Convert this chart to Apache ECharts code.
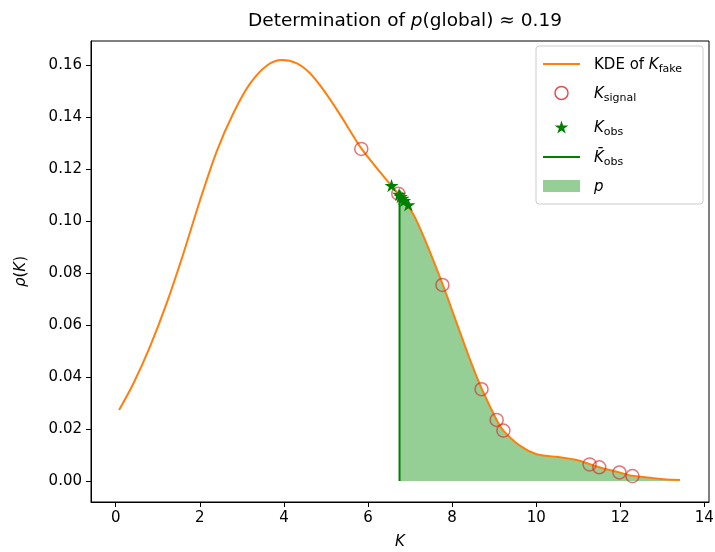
<!DOCTYPE html>
<html>
<head>
<meta charset="utf-8">
<script src="https://cdn.jsdelivr.net/npm/echarts@6/dist/echarts.min.js"></script>
<style>html,body{margin:0;padding:0;background:#fff}#c{width:715px;height:552px}</style>
</head>
<body>
<div id="c"></div>
<script>
// KDE curve
const kdeK   = [0.08, 0.42, 0.82, 1.21, 1.61, 2.00, 2.40, 2.80, 3.19, 3.59, 3.95, 4.31, 4.62, 4.94, 5.34, 5.85, 6.52, 6.75, 7.08, 7.40, 7.78, 8.11, 8.43, 8.71, 9.06, 9.22, 9.62, 10.01, 10.49, 10.97, 11.27, 11.50, 11.98, 12.29, 13.03, 13.42];
const kdeRho = [0.0273, 0.0375, 0.0519, 0.0683, 0.0875, 0.1077, 0.1267, 0.1415, 0.1527, 0.1597, 0.1619, 0.1606, 0.1568, 0.1504, 0.1408, 0.1277, 0.1142, 0.1098, 0.1025, 0.0910, 0.0754, 0.0607, 0.0465, 0.0353, 0.0235, 0.0194, 0.0135, 0.0103, 0.0093, 0.0081, 0.0065, 0.0053, 0.0033, 0.0020, 0.0007, 0.0004];
// K_signal points
const sigK   = [5.84, 6.72, 7.77, 8.70, 9.06, 9.22, 11.27, 11.50, 11.98, 12.29];
const sigRho = [0.1277, 0.1105, 0.0754, 0.0353, 0.0235, 0.0194, 0.0064, 0.0053, 0.0033, 0.0019];
// K_obs points
const obsK   = [6.56, 6.74, 6.78, 6.82, 6.86, 6.96];
const obsRho = [0.1136, 0.1102, 0.1094, 0.1087, 0.1078, 0.1062];
// mean K_obs
const kBar = 6.75;
const kBarRho = 0.1095;
// ticks
const xTicks = [0, 2, 4, 6, 8, 10, 12, 14];
const yTicks = [0, 0.02, 0.04, 0.06, 0.08, 0.10, 0.12, 0.14, 0.16];
// legend entries
const legendTexts = [
  '{t|KDE of }{i|K}{s|fake}',
  '{i|K}{s|signal}',
  '{i|K}{s|obs}',
  '{i|K\u0304}{s|obs}',
  '{i|p}'
];

const FONT = 'DejaVu Sans';
const SMOOTH = 0.3;
const kdeData = kdeK.map((k, i) => [k, kdeRho[i]]);
const fillData = [[kBar, kBarRho]].concat(kdeData.filter(d => d[0] > kBar));
const sigData = sigK.map((k, i) => [k, sigRho[i]]);
const obsData = obsK.map((k, i) => [k, obsRho[i]]);
const STAR_PTS = [[0,-1],[0.2245,-0.309],[0.951,-0.309],[0.363,0.118],[0.588,0.809],[0,0.382],[-0.588,0.809],[-0.363,0.118],[-0.951,-0.309],[-0.2245,-0.309]];
const STAR = 'path://M' + STAR_PTS.map(p => p[0] + ',' + p[1]).join('L') + 'Z';
const RED = 'rgba(214,39,40,0.8)';
const GREEN = '#008000';
const FILL = 'rgba(44,160,44,0.5)';

const richG = {
  t: {fontFamily: FONT, fontSize: 15, fill: '#000'},
  i: {fontFamily: FONT, fontSize: 15, fontStyle: 'italic', fill: '#000'},
  s: {fontFamily: FONT, fontSize: 11, fill: '#000', padding: [9, 0, 0, 0]}
};
const rowY = [64, 93, 127, 157, 186];
const hx0 = 543, hx1 = 580, hcx = 561.5, tx = 594;
const starR = 7.2;
const legendGraphics = [
  {type: 'rect', shape: {x: 536, y: 46, width: 167, height: 158, r: 3}, z: 100, silent: true,
   style: {fill: 'rgba(255,255,255,0.8)', stroke: '#cccccc', lineWidth: 1}},
  {type: 'line', shape: {x1: hx0, y1: rowY[0], x2: hx1, y2: rowY[0]}, z: 101, style: {stroke: '#ff7f0e', lineWidth: 2}},
  {type: 'circle', shape: {cx: hcx, cy: rowY[1], r: 6.5}, z: 101, style: {fill: 'none', stroke: RED, lineWidth: 1.5}},
  {type: 'polygon', shape: {points: STAR_PTS.map(p => [hcx + p[0] * starR, rowY[2] + 0.1 * starR + p[1] * starR])}, z: 101, style: {fill: GREEN}},
  {type: 'line', shape: {x1: hx0, y1: rowY[3], x2: hx1, y2: rowY[3]}, z: 101, style: {stroke: GREEN, lineWidth: 2}},
  {type: 'rect', shape: {x: hx0, y: rowY[4] - 6, width: hx1 - hx0, height: 12}, z: 101, style: {fill: FILL}}
].concat(legendTexts.map((txt, i) => ({
  type: 'text', z: 101, silent: true,
  style: {x: tx, y: rowY[i] + 1, text: txt, rich: richG, fontFamily: FONT, fontSize: 15, fill: '#000', align: 'left', verticalAlign: 'middle'}
})));

const chart = echarts.init(document.getElementById('c'), null, {renderer: 'canvas'});
chart.setOption({
  animation: false,
  backgroundColor: '#fff',
  title: {
    text: '{a|Determination of }{i|p}{a|(global) \u2248 0.19}',
    left: 400, top: 7, textAlign: 'center',
    textStyle: {fontWeight: 'normal', rich: {
      a: {fontFamily: FONT, fontSize: 18.5, fontWeight: 'normal', color: '#000'},
      i: {fontFamily: FONT, fontSize: 18.5, fontWeight: 'normal', fontStyle: 'italic', color: '#000'}
    }}
  },
  grid: {left: 91, right: 6, top: 41, bottom: 50, containLabel: false, outerBoundsMode: 'none',
    show: true, borderColor: '#000', borderWidth: 1, backgroundColor: 'transparent'},
  xAxis: {
    type: 'value', min: -0.588, max: 14.11,
    axisLine: {show: true, onZero: false, lineStyle: {color: '#000', width: 1}},
    axisTick: {show: true, length: 5, customValues: xTicks, lineStyle: {color: '#000'}},
    axisLabel: {customValues: xTicks, fontFamily: FONT, fontSize: 15, color: '#000', margin: 9},
    splitLine: {show: false},
    name: 'K', nameLocation: 'middle', nameGap: 33,
    nameTextStyle: {fontFamily: FONT, fontSize: 15, fontStyle: 'italic', color: '#000'}
  },
  yAxis: {
    type: 'value', min: -0.00806, max: 0.1692,
    axisLine: {show: true, onZero: false, lineStyle: {color: '#000', width: 1}},
    axisTick: {show: true, length: 5, customValues: yTicks, lineStyle: {color: '#000'}},
    axisLabel: {customValues: yTicks, fontFamily: FONT, fontSize: 15, color: '#000', margin: 9,
      formatter: v => v.toFixed(2)},
    splitLine: {show: false},
    name: '{i|\u03C1}{t|(}{i|K}{t|)}', nameLocation: 'middle', nameGap: 62,
    nameTextStyle: {rich: {
      i: {fontFamily: FONT, fontSize: 15, fontStyle: 'italic', color: '#000'},
      t: {fontFamily: FONT, fontSize: 15, color: '#000'}
    }}
  },
  graphic: legendGraphics,
  series: [
    {
      name: 'p', type: 'line', data: fillData, smooth: SMOOTH, symbol: 'none', z: 1,
      lineStyle: {width: 0, color: FILL}, itemStyle: {color: FILL},
      areaStyle: {color: FILL, origin: 0, opacity: 1}
    },
    {
      name: 'Kbar', type: 'line', data: [[kBar, 0], [kBar, kBarRho]], symbol: 'none', z: 2,
      lineStyle: {width: 2, color: GREEN}, itemStyle: {color: GREEN}
    },
    {
      name: 'KDE', type: 'line', data: kdeData, smooth: SMOOTH, symbol: 'none', z: 3,
      lineStyle: {width: 2, color: '#ff7f0e'}, itemStyle: {color: '#ff7f0e'}
    },
    {
      name: 'sig', type: 'scatter', data: sigData, symbol: 'circle', symbolSize: 13, z: 4,
      itemStyle: {color: 'transparent', borderColor: RED, borderWidth: 1.5}
    },
    {
      name: 'obs', type: 'scatter', data: obsData, symbol: STAR, symbolSize: 14, symbolKeepAspect: true, z: 5,
      itemStyle: {color: GREEN, opacity: 1}
    }
  ]
});
</script>
</body>
</html>
